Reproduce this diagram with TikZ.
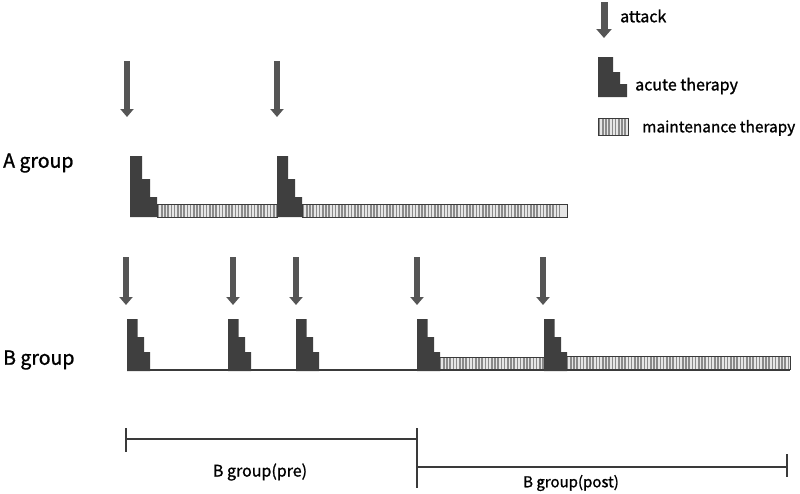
\documentclass[tikz,border=0pt]{standalone}
\usepackage{fontspec}
\setmainfont{Noto Sans CJK JP}[FakeBold=1.2]
\usetikzlibrary{arrows.meta}
\definecolor{blk}{HTML}{3F3F3F}
\definecolor{arr}{HTML}{555555}
\definecolor{ln}{HTML}{3A3A3A}
\definecolor{stripe}{HTML}{8A8A8A}
\definecolor{barbg}{HTML}{E6E6E6}
\tikzset{
  attack/.style={arr, line width=5.5, -{Triangle[width=13,length=8]}},
  legattack/.style={arr, line width=7, -{Triangle[width=15,length=9]}},
  lbl/.style={inner sep=0pt, anchor=west, font=\fontsize{16}{18}\selectfont},
  grp/.style={inner sep=0pt, anchor=west, font=\fontsize{19.5}{22}\selectfont},
  span/.style={ln, line width=1.6},
}
\newcommand\stair[8]{%
  \fill[blk] (#1,#2) -- (#1+#6,#2) -- (#1+#6,#3) -- (#1+#6+#7,#3) -- (#1+#6+#7,#4)
    -- (#1+#6+#7+#8,#4) -- (#1+#6+#7+#8,#5) -- (#1,#5) -- cycle;}
\newcommand\maint[4]{%
  \fill[barbg] (#1,#2) rectangle (#3,#4);
  \begin{scope}
    \clip (#1,#2) rectangle (#3,#4);
    \foreach \i in {0,...,80} \draw[stripe, line width=1.5] (#1+1.6+\i*3.2,#2) -- (#1+1.6+\i*3.2,#4);
  \end{scope}
  \draw[ln, line width=1] (#1,#2) rectangle (#3,#4);}
\begin{document}
\begin{tikzpicture}[x=1pt,y=-1pt]
\useasboundingbox (0,0) rectangle (800,493);
% legend
\draw[legattack] (604,2) -- (604,38);
\node[lbl] (tatt) at (620,16) {attack};
\stair{598}{57}{72}{84}{97}{15}{7}{7}
\node[lbl] (tacu) at (635,86) {acute therapy};
\maint{598}{118}{628}{135}
\node[lbl, font=\fontsize{15.4}{18}\selectfont] (tmain) at (642,128) {maintenance therapy};
% A group
\node[grp] (ga) at (3,163) {A group};
\draw[attack] (127,61) -- (127,117);
\draw[attack] (277,61) -- (277,117);
\maint{157}{204}{277}{217}
\maint{302}{204}{567}{217}
\stair{130}{156}{179}{197}{217}{12}{8}{7}
\stair{277}{156}{179}{197}{217}{11}{7}{7}
% B group
\node[grp] (gb) at (3,360) {B group};
\foreach \ax in {126,233,296,417,543} \draw[attack] (\ax,257) -- (\ax,305);
\draw[ln, line width=2] (127,370) -- (790,370);
\maint{439}{357}{544}{369}
\maint{566}{356}{790}{369}
\foreach \bx in {127,228,296,417,544} \stair{\bx}{319}{337}{352}{371}{10.5}{6.5}{6}
% spans
\coordinate (p1) at (126,439);
\coordinate (p2) at (417,439);
\coordinate (q1) at (417,467);
\coordinate (q2) at (787,467);
\draw[span] (p1) -- (p2);
\draw[span] (126,428) -- (126,452);
\draw[span] (417,428) -- (417,488);
\draw[span] (q1) -- (q2);
\draw[span] (787,454) -- (787,477);
\node[font=\fontsize{16}{18}\selectfont, inner sep=0pt] (tpre) at (260,472) {B group(pre)};
\node[font=\fontsize{15}{18}\selectfont, inner sep=0pt] (tpost) at (571,483) {B group(post)};
\end{tikzpicture}
\end{document}
